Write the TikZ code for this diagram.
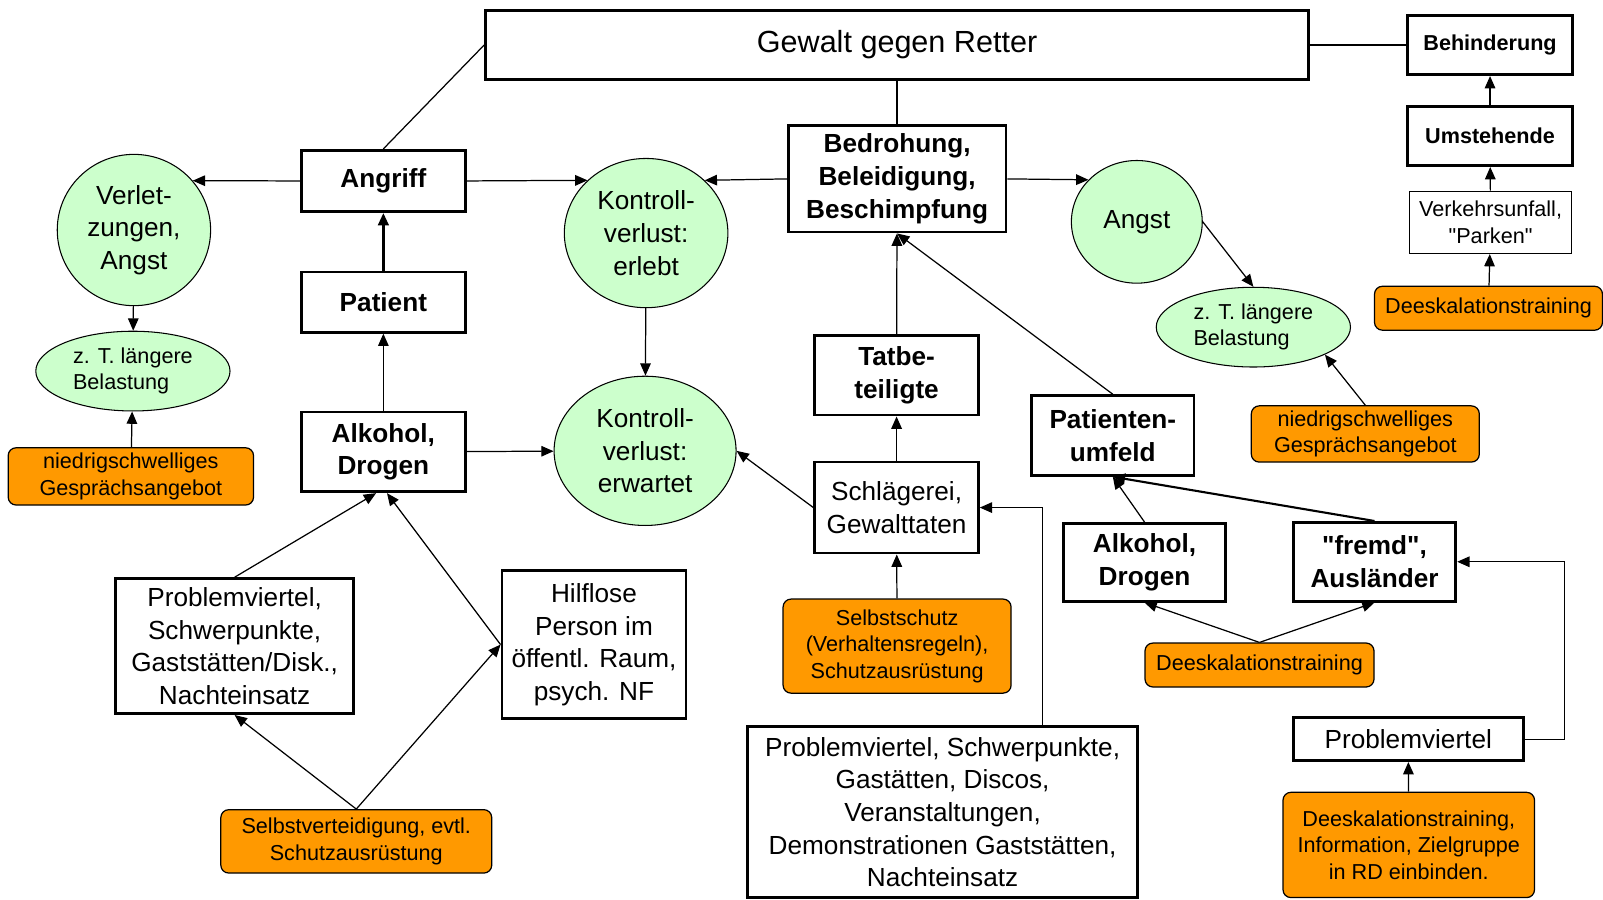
\documentclass[tikz,border=0pt]{standalone}
\usepackage{fontspec}
\setmainfont{Liberation Sans}[Ligatures=TeXOff]
\usepackage{tikz}
\usetikzlibrary{shapes,arrows.meta}
\usepackage{xcolor}
\definecolor{hellgruen}{HTML}{CCFFCC}
\definecolor{massorange}{HTML}{FF9900}
\newlength{\pixel}
\setlength{\pixel}{0.2045mm}

\begin{document}
\begin{tikzpicture}[x=\pixel,y=-\pixel,line width=0.7pt,>={Triangle[length=7pt,width=6pt]}]

	\tikzstyle{gross}=[font=\fontsize{14.9}{18.6}\selectfont]
	\tikzstyle{klein}=[font=\fontsize{12.3}{15.1}\selectfont]
	\tikzstyle{kasten}=[draw,rectangle,line width=1.6pt,align=center,inner sep=0pt,gross]
	\tikzstyle{fett}=[kasten,font=\fontsize{14.9}{18.6}\selectfont\bfseries]
	\tikzstyle{fettklein}=[kasten,font=\fontsize{12.3}{15.1}\selectfont\bfseries]
	\tikzstyle{kreis}=[draw,ellipse,fill=hellgruen,line width=0.6pt,inner sep=0pt,align=center,gross]
	\tikzstyle{belastung}=[draw,ellipse,fill=hellgruen,line width=0.6pt,inner sep=0pt,align=left,klein]
	\tikzstyle{massnahme}=[draw,rectangle,rounded corners=4.5pt,fill=massorange,line width=0.7pt,inner sep=0pt,align=center,klein]

	\useasboundingbox (0,0) rectangle (1568,880);

	\node[kasten,minimum width=805\pixel,minimum height=68\pixel,font=\fontsize{17.4}{21}\selectfont] (titel) at (877.5,44) {Gewalt gegen Retter};

	\node[fettklein,minimum width=161\pixel,minimum height=58\pixel] (behinderung) at (1457.5,44) {Behinderung};
	\node[fettklein,minimum width=161\pixel,minimum height=58\pixel] (umstehende) at (1457.5,133) {Umstehende};
	\node[kasten,klein,line width=0.6pt,minimum width=158\pixel,minimum height=61\pixel] (verkehr) at (1458,217.5) {Verkehrsunfall,\\"Parken"};
	\node[massnahme,minimum width=223\pixel,minimum height=43\pixel] (deesk1) at (1456,301.5) {Deeskalationstraining};

	\node[kreis,minimum width=128\pixel,minimum height=120\pixel] (angst) at (1112,217) {Angst};
	\node[belastung,minimum width=190\pixel,minimum height=78\pixel] (last2) at (1226,320) {z. T. längere\\Belastung};
	\node[massnahme,minimum width=223\pixel,minimum height=55\pixel] (gespraech2) at (1335.5,424.5) {niedrigschwelliges\\Gesprächsangebot};

	\node[fett,minimum width=213\pixel,minimum height=104\pixel] (bedrohung) at (877.5,175) {Bedrohung,\\Beleidigung,\\Beschimpfung};
	\node[kreis,minimum width=160\pixel,minimum height=146\pixel] (erlebt) at (632,228) {Kontroll-\\verlust:\\erlebt};
	\node[kreis,minimum width=178\pixel,minimum height=146\pixel] (erwartet) at (631,441) {Kontroll-\\verlust:\\erwartet};

	\node[fett,minimum width=160\pixel,minimum height=60\pixel] (angriff) at (375,177) {Angriff};
	\node[fett,minimum width=160\pixel,minimum height=59\pixel] (patient) at (375,295.5) {Patient};
	\node[fett,minimum width=160\pixel,minimum height=78\pixel] (alkohol1) at (375,442) {Alkohol,\\Drogen};

	\node[kreis,minimum width=150\pixel,minimum height=148\pixel] (verletzung) at (131,225) {Verlet-\\zungen,\\Angst};
	\node[belastung,minimum width=190\pixel,minimum height=78\pixel] (last1) at (130,363) {z. T. längere\\Belastung};
	\node[massnahme,minimum width=240\pixel,minimum height=56\pixel] (gespraech1) at (128,466) {niedrigschwelliges\\Gesprächsangebot};

	\node[kasten,minimum width=233\pixel,minimum height=132\pixel] (viertel1) at (229.5,632) {Problemviertel,\\Schwerpunkte,\\Gaststätten/Disk.,\\Nachteinsatz};
	\node[kasten,minimum width=180\pixel,minimum height=145\pixel] (hilflos) at (581,630.5) {Hilflose\\Person im\\öffentl. Raum,\\psych. NF};
	\node[massnahme,minimum width=265\pixel,minimum height=62\pixel] (selbstvert) at (348.5,823) {Selbstverteidigung, evtl.\\Schutzausrüstung};

	\node[fett,minimum width=160\pixel,minimum height=78\pixel] (tatbeteiligte) at (877,367) {Tatbe-\\teiligte};
	\node[kasten,minimum width=160\pixel,minimum height=89\pixel] (schlaegerei) at (877,496.5) {Schlägerei,\\Gewalttaten};
	\node[massnahme,minimum width=223\pixel,minimum height=92\pixel] (selbstschutz) at (877.5,632) {Selbstschutz\\(Verhaltensregeln),\\Schutzausrüstung};
	\node[kasten,minimum width=382\pixel,minimum height=167\pixel] (viertel2) at (922,794.5) {Problemviertel, Schwerpunkte,\\Gastätten, Discos,\\Veranstaltungen,\\Demonstrationen Gaststätten,\\Nachteinsatz};

	\node[fett,minimum width=159\pixel,minimum height=78\pixel] (umfeld) at (1088.5,426) {Patienten-\\umfeld};
	\node[fett,minimum width=159\pixel,minimum height=76\pixel] (alkohol2) at (1119.5,550) {Alkohol,\\Drogen};
	\node[fett,minimum width=159\pixel,minimum height=77\pixel] (fremd) at (1344.5,549.5) {"fremd",\\Ausländer};
	\node[massnahme,minimum width=224\pixel,minimum height=43\pixel] (deesk2) at (1232,650.5) {Deeskalationstraining};
	\node[kasten,minimum width=225\pixel,minimum height=42\pixel] (viertel3) at (1377.5,723) {Problemviertel};
	\node[massnahme,minimum width=246\pixel,minimum height=103\pixel] (deesk3) at (1378,826.5) {Deeskalationstraining,\\Information, Zielgruppe\\in RD einbinden.};

	\draw (titel.west) -- (angriff.north);
	\draw (titel.south) -- (bedrohung.north);
	\draw (titel.east) -- (behinderung.west);

	\draw[->] (umstehende) -- (behinderung);
	\draw[->] (verkehr) -- (umstehende);
	\draw[->] (deesk1) -- (verkehr);

	\draw[->] (angriff.west) -- (verletzung.40);
	\draw[->] (angriff.east) -- (erlebt.138);
	\draw[->,line width=1.4pt] (patient) -- (angriff);
	\draw[->] (alkohol1) -- (patient);
	\draw[->] (alkohol1) -- (erwartet);
	\draw[->] (verletzung) -- (last1);
	\draw[->] (gespraech1) -- (last1);

	\draw[->] (bedrohung.west) -- (erlebt.42);
	\draw[->] (bedrohung.east) -- (angst.139);
	\draw[->] (erlebt) -- (erwartet);
	\draw[->] (angst.east) -- (last2.north);
	\draw[->] (gespraech2.north) -- (last2.-21);

	\draw[->] (tatbeteiligte) -- (bedrohung);
	\draw[->] (umfeld.north) -- (bedrohung.south);
	\draw[->] (schlaegerei) -- (tatbeteiligte);
	\draw[->] (schlaegerei.west) -- (erwartet.east);
	\draw[->] (selbstschutz) -- (schlaegerei);
	\draw[->] (viertel2.41) |- (schlaegerei.east);

	\draw[->] (alkohol2.north) -- (umfeld.south);
	\draw[->,line width=1.2pt] (fremd.north) -- (umfeld.south);
	\draw[->] (deesk2.north) -- (alkohol2.south);
	\draw[->] (deesk2.north) -- (fremd.south);
	\draw[->] (viertel3.east) -- ++(39,0) |- (fremd.east);
	\draw[->] (deesk3) -- (viertel3);

	\draw[->] (viertel1.north) -- (alkohol1.-100);
	\draw[->] (hilflos.west) -- (alkohol1.-85);
	\draw[->] (selbstvert.north) -- (viertel1.south);
	\draw[->] (selbstvert.north) -- (hilflos.west);

\end{tikzpicture}
\end{document}
